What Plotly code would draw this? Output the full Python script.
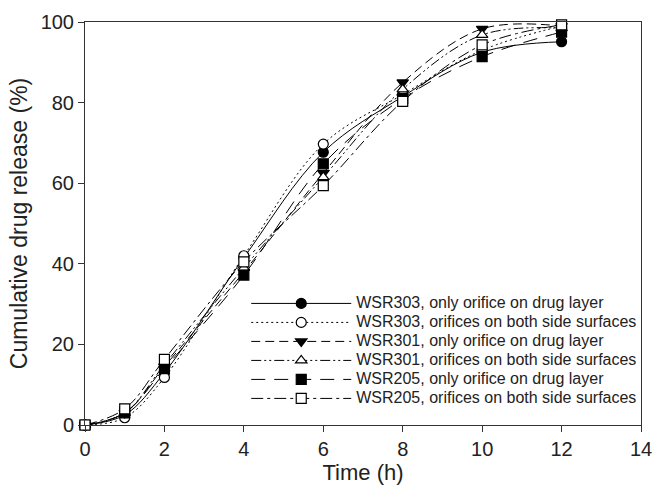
import plotly.graph_objects as go

time_h = [0, 1, 2, 4, 6, 8, 10, 12]

series_names = [
    "WSR303, only orifice on drug layer",
    "WSR303, orifices on both side surfaces",
    "WSR301, only orifice on drug layer",
    "WSR301, orifices on both side surfaces",
    "WSR205, only orifice on drug layer",
    "WSR205, orifices on both side surfaces",
]

wsr303_only = [0, 2.5, 13.0, 41.5, 67.7, 81.5, 92.5, 95.1]
wsr303_both = [0, 1.8, 11.8, 42.0, 69.7, 82.0, 93.0, 99.0]
wsr301_only = [0, 3.0, 14.5, 38.0, 62.5, 85.0, 98.3, 99.0]
wsr301_both = [0, 3.0, 15.0, 39.0, 61.5, 83.3, 96.8, 98.5]
wsr205_only = [0, 3.0, 14.0, 37.2, 64.8, 81.0, 91.4, 97.5]
wsr205_both = [0, 4.0, 16.3, 40.5, 59.4, 80.3, 94.3, 99.3]

series_values = [wsr303_only, wsr303_both, wsr301_only, wsr301_both, wsr205_only, wsr205_both]

symbols = ["circle", "circle-open", "triangle-down", "triangle-up-open", "square", "square-open"]
dashes = ["solid", "2px,3px", "9px,5px", "10px,3px,2px,3px,2px,3px", "14px,9px", "12px,4px,3px,4px"]

fig = go.Figure()
for name, vals, sym, dash in zip(series_names, series_values, symbols, dashes):
    is_open = sym.endswith("-open")
    fig.add_trace(go.Scatter(
        x=time_h, y=vals, name='<span style="font-size:16px">' + name + '</span>',
        mode="lines+markers",
        line=dict(color="black", width=1, dash=dash, shape="spline", smoothing=1.0),
        marker=dict(symbol=sym.replace("-open", ""), size=10,
                    color="white" if is_open else "black",
                    line=dict(color="black", width=1.2)),
        cliponaxis=False,
    ))

font_family = "Liberation Sans, Arial, sans-serif"
fig.update_layout(
    width=662, height=487,
    margin=dict(l=85, r=10, t=22, b=59),
    plot_bgcolor="white", paper_bgcolor="white",
    font=dict(family=font_family, size=16, color="#222"),
    showlegend=True,
    legend=dict(
        x=0.29, y=0.03, xanchor="left", yanchor="bottom",
        bgcolor="rgba(255,255,255,0)", borderwidth=0,
        font=dict(size=11, family=font_family, color="#222"),
        itemwidth=100, tracegroupgap=0,
    ),
)
fig.update_xaxes(
    range=[0, 14], tickvals=[0, 2, 4, 6, 8, 10, 12, 14],
    showgrid=False, zeroline=False, showline=True, linecolor="#333", linewidth=1,
    mirror=True, ticks="outside", ticklen=6, tickcolor="#333",
    ticklabeloverflow="allow",
    title=dict(text="Time (h)", font=dict(size=22), standoff=2),
    tickfont=dict(size=20),
)
fig.update_yaxes(
    range=[0, 100], tickvals=[0, 20, 40, 60, 80, 100],
    showgrid=False, zeroline=False, showline=True, linecolor="#333", linewidth=1,
    mirror=True, ticks="outside", ticklen=6, tickcolor="#333",
    title=dict(text="Cumulative drug release (%)", font=dict(size=23), standoff=6),
    tickfont=dict(size=20),
)

fig.write_html("out.html")
